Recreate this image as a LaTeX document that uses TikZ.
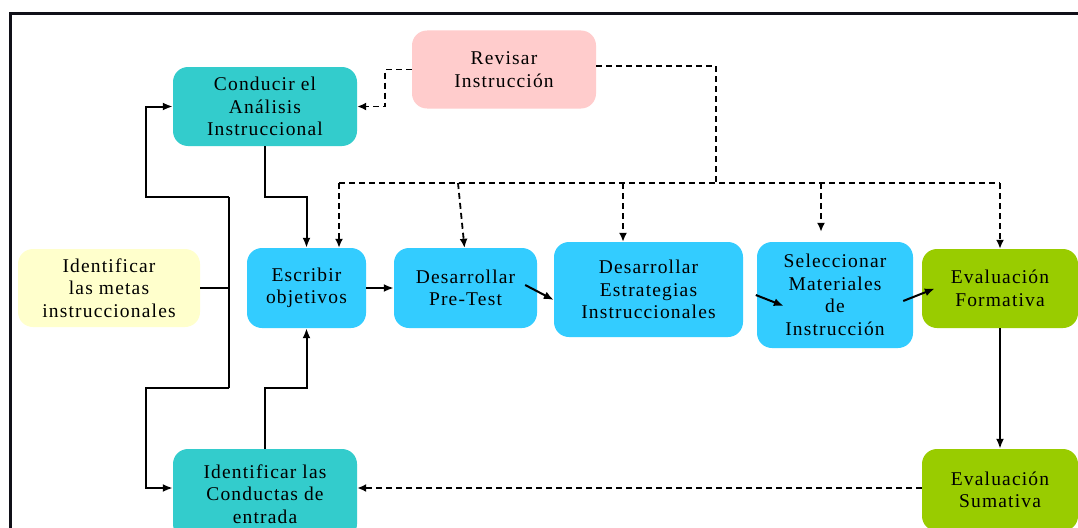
\documentclass[tikz,border=0pt]{standalone}
\usepackage{fontspec}
\setmainfont{Liberation Serif}[LetterSpace=6]
\usetikzlibrary{arrows.meta,calc}
\definecolor{tealc}{HTML}{33CCCC}
\definecolor{pinkc}{HTML}{FFCCCC}
\definecolor{yellowc}{HTML}{FFFFCC}
\definecolor{cyanc}{HTML}{33CCFF}
\definecolor{greenc}{HTML}{99CC00}
\definecolor{framec}{HTML}{101018}
\begin{document}
\begin{tikzpicture}[x=1pt,y=-1pt,
  box/.style={rounded corners=15pt, inner sep=0pt, align=center,
    font=\fontsize{19.5}{22.5}\selectfont, text=black},
  solidline/.style={line width=2pt},
  conn/.style={line width=2pt, -{Latex[length=10pt,width=8pt]}},
  dline/.style={line width=1.8pt, dash pattern=on 6pt off 4pt},
  dconn/.style={dline, -{Latex[length=9pt,width=8pt]}}]
\useasboundingbox (0,0) rectangle (1078,527);
\clip (0,0) rectangle (1078,527);
\fill[white] (0,0) rectangle (1078,527);

% outer frame
\draw[line width=3pt, framec] (10.5,540) -- (10.5,13.5) -- (1090,13.5);

% boxes
\node[box, fill=tealc, minimum width=184pt, minimum height=79pt] (conducir) at (265,106.5) {Conducir el\\Análisis\\Instruccional};
\node[box, fill=pinkc, minimum width=184pt, minimum height=78pt] (revisar) at (504,69.5) {Revisar\\Instrucción};
\node[box, fill=yellowc, minimum width=182pt, minimum height=78pt] (metas) at (109,288) {Identificar\\las metas\\instruccionales};
\node[box, fill=cyanc, minimum width=119pt, minimum height=80pt] (escribir) at (306.5,288) {Escribir\\objetivos};
\node[box, fill=cyanc, minimum width=143pt, minimum height=80pt] (pretest) at (465.5,288) {Desarrollar\\Pre-Test};
\node[box, fill=cyanc, minimum width=189pt, minimum height=95pt] (estrategias) at (648.5,289.5) {Desarrollar\\Estrategias\\Instruccionales};
\node[box, fill=cyanc, minimum width=156pt, minimum height=106pt] (seleccionar) at (835,295) {Seleccionar\\Materiales\\de\\Instrucción};
\node[box, fill=greenc, minimum width=156pt, minimum height=79pt] (formativa) at (1000,288.5) {Evaluación\\Formativa};
\node[box, fill=tealc, minimum width=184pt, minimum height=90pt] (conductas) at (265,494) {Identificar las\\Conductas de\\entrada};
\node[box, fill=greenc, minimum width=156pt, minimum height=82pt] (sumativa) at (1000,490) {Evaluación\\Sumativa};

% solid connectors
\coordinate (busT) at (229,197);
\coordinate (busB) at (229,388);
\draw[solidline] (busT) -- (busB);
\draw[solidline] (metas.east) -- (metas.east -| busT);
\draw[conn] (busT) -- ++(-83,0) |- (conducir.west);
\draw[conn] (busB) -- ++(-83,0) |- ($(conductas.west)+(0,-6)$);
\draw[conn] (conducir.south) -- (conducir.south |- busT) -| (escribir.north);
\draw[conn] (conductas.north) -- (conductas.north |- busB) -| (escribir.south);
\draw[conn] (escribir.east) -- (pretest.west);
\draw[conn] ($(pretest.east)+(-12,-3)$) -- ($(estrategias.west)+(0,10.5)$);
\draw[conn] ($(seleccionar.west)+(-1,0)$) -- ($(seleccionar.west)+(27,11)$);
\draw[conn] ($(seleccionar.east)+(-10,6)$) -- ($(formativa.west)+(13,0)$);
\draw[conn] (formativa.south) -- (sumativa.north);

% dashed feedback connectors
\draw[dconn] ($(sumativa.west)+(0,-2)$) -- ($(conductas.east)+(0,-6)$);
\draw[dconn] (revisar.west) -- ++(-27,0) |- (conducir.east);
\coordinate (rv) at (716,183);
\coordinate (fbL) at (339,183);
\coordinate (fbR) at (1000,183);
\draw[dline] ($(revisar.east)+(0,-3.5)$) -| (rv);
\draw[dline] (fbL) -- (fbR);
\draw[dconn] (fbL) -- (fbL |- escribir.north);
\draw[dconn] (458,183) -- ($(pretest.north)+(-1,0)$);
\draw[dconn] (623,183) -- (623,183 |- estrategias.north);
\draw[dconn] (821,183) -- ($(seleccionar.north)+(-14,-10)$);
\draw[dconn] (fbR) -- (formativa.north);
\end{tikzpicture}
\end{document}
